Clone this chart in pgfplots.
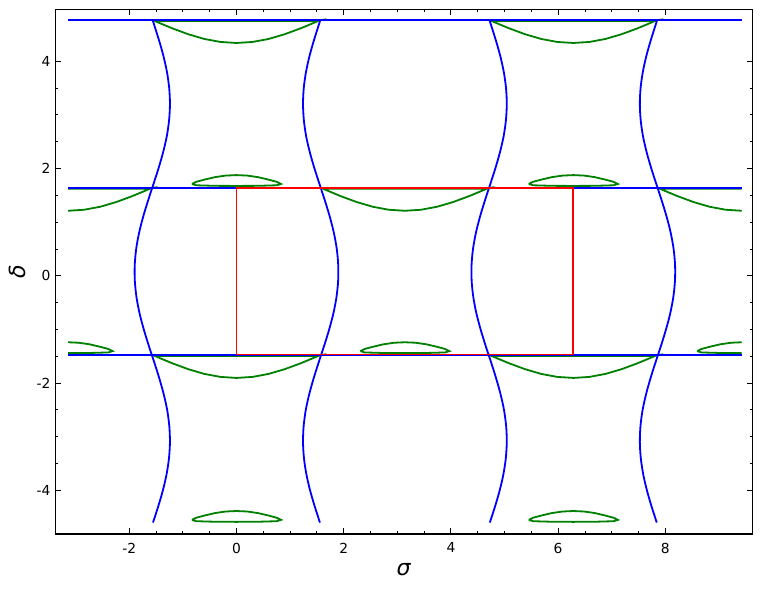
\documentclass[border=0pt]{standalone}
\usepackage{fontspec}
\setmainfont{DejaVu Sans}
\usepackage{pgfplots}
\usepackage{pgfplotstable}
\pgfplotsset{compat=1.18}

\definecolor{mblue}{rgb}{0,0,1}
\definecolor{mgreen}{rgb}{0,0.5,0}
\definecolor{mred}{rgb}{1,0,0}

% wavy blue curves: d = delta, xr = curve near pi/2, xl = curve near -pi/2
\pgfplotstableread{
d      xr     xl
-4.60  1.557 -1.557
-4.30  1.460 -1.460
-4.00  1.373 -1.373
-3.70  1.304 -1.304
-3.40  1.259 -1.259
-3.10  1.241 -1.241
-2.80  1.253 -1.253
-2.50  1.293 -1.293
-2.20  1.359 -1.359
-1.90  1.443 -1.443
-1.60  1.538 -1.538
-1.30  1.637 -1.637
-1.00  1.729 -1.729
-0.70  1.808 -1.808
-0.40  1.865 -1.865
-0.10  1.896 -1.896
 0.20  1.898 -1.898
 0.50  1.871 -1.871
 0.80  1.817 -1.817
 1.10  1.741 -1.741
 1.40  1.650 -1.650
 1.70  1.552 -1.552
 2.00  1.455 -1.455
 2.30  1.369 -1.369
 2.60  1.300 -1.300
 2.90  1.257 -1.257
 3.20  1.241 -1.241
 3.50  1.255 -1.255
 3.80  1.297 -1.297
 4.10  1.363 -1.363
 4.40  1.448 -1.448
 4.770 1.565 -1.565
}\bluecurve

% horizontal blue lines
\pgfplotstableread{
x        top    mid    bot
-3.1416  4.770  1.642  -1.474
 3.1416  4.770  1.642  -1.474
 9.4248  4.770  1.642  -1.474
}\hlines

% large green loop hanging below a blue line (offsets from its centre)
\pgfplotstableread{
u      v
-1.56 -0.005
-1.50 -0.030
-1.40 -0.073
-1.20 -0.156
-0.90 -0.267
-0.60 -0.355
-0.30 -0.411
 0.00 -0.430
 0.30 -0.411
 0.60 -0.355
 0.90 -0.267
 1.20 -0.156
 1.40 -0.073
 1.50 -0.030
 1.56 -0.005
 1.45 -0.020
 0.00 -0.020
-1.45 -0.020
-1.56 -0.005
}\biglens

% small green loop sitting on a blue line
\pgfplotstableread{
u      v
-0.83  0.070
-0.75  0.110
-0.60  0.150
-0.40  0.197
-0.20  0.226
 0.00  0.235
 0.20  0.226
 0.40  0.197
 0.60  0.150
 0.75  0.110
 0.83  0.070
 0.75  0.045
 0.40  0.035
 0.00  0.033
-0.40  0.035
-0.75  0.045
-0.83  0.070
}\smalllens

\pgfplotsset{
  mline/.style={line width=1.3bp},
  loop/.style={mgreen, mline, restrict x to domain=-3.15:9.43, unbounded coords=jump},
}
\newcommand{\biglensat}[2]{\addplot[loop]
  table[x expr=\thisrow{u}+#1, y expr=\thisrow{v}+#2]{\biglens};}
\newcommand{\smalllensat}[2]{\addplot[loop]
  table[x expr=\thisrow{u}+#1, y expr=\thisrow{v}+#2]{\smalllens};}

\begin{document}
\begin{tikzpicture}
\begin{axis}[
    name=ax,
    scale only axis, width=502.1bp, height=377.3bp,
    xmin=-3.38, xmax=9.63, ymin=-4.81, ymax=4.96,
    xtick={-2,0,2,4,6,8}, xticklabels={-2,0,2,4,6,8},
    ytick={-4,-2,0,2,4}, yticklabels={-4,-2,0,2,4},
    minor x tick num=3, minor y tick num=3,
    tick align=inside,
    major tick length=4bp, minor tick length=2bp,
    every tick/.style={black, line width=0.6bp},
    axis line style={line width=1bp},
    tick label style={font=\fontsize{10}{12}\selectfont},
    xticklabel style={yshift=-3bp},
    xlabel={\textit{σ}}, ylabel={\textit{δ}},
    label style={font=\fontsize{16}{19}\selectfont},
    xlabel style={at={(axis description cs:0.5,-0.069)}, anchor=center},
    ylabel style={at={(axis description cs:-0.0538,0.5)}, anchor=center},
]
% green loops
\biglensat{0}{4.770}
\biglensat{6.2832}{4.770}
\biglensat{-3.1416}{1.642}
\biglensat{3.1416}{1.642}
\biglensat{9.4248}{1.642}
\biglensat{0}{-1.474}
\biglensat{6.2832}{-1.474}
\smalllensat{0}{1.642}
\smalllensat{6.2832}{1.642}
\smalllensat{-3.1416}{-1.474}
\smalllensat{3.1416}{-1.474}
\smalllensat{9.4248}{-1.474}
\smalllensat{0}{-4.62}
\smalllensat{6.2832}{-4.62}

% blue curves
\addplot[mblue, mline] table[x=x, y=top]{\hlines};
\addplot[mblue, mline] table[x=x, y=mid]{\hlines};
\addplot[mblue, mline] table[x=x, y=bot]{\hlines};
\addplot[mblue, mline, smooth] table[x=xl, y=d]{\bluecurve};
\addplot[mblue, mline, smooth] table[x=xr, y=d]{\bluecurve};
\addplot[mblue, mline, smooth] table[x expr=\thisrow{xl}+6.2832, y=d]{\bluecurve};
\addplot[mblue, mline, smooth] table[x expr=\thisrow{xr}+6.2832, y=d]{\bluecurve};

% red rectangle
\addplot[mred, mline] coordinates {(0,-1.466) (0,1.642) (6.2832,1.642) (6.2832,-1.466) (0,-1.466)};
\addplot[mblue, line width=0.6bp] coordinates {(0,-1.479) (6.2832,-1.479)};
\end{axis}
\pgfresetboundingbox
\path[use as bounding box] ([xshift=-39.8bp,yshift=-40.3bp]ax.south west)
  rectangle ([xshift=7.4bp,yshift=7bp]ax.north east);
\end{tikzpicture}
\end{document}
